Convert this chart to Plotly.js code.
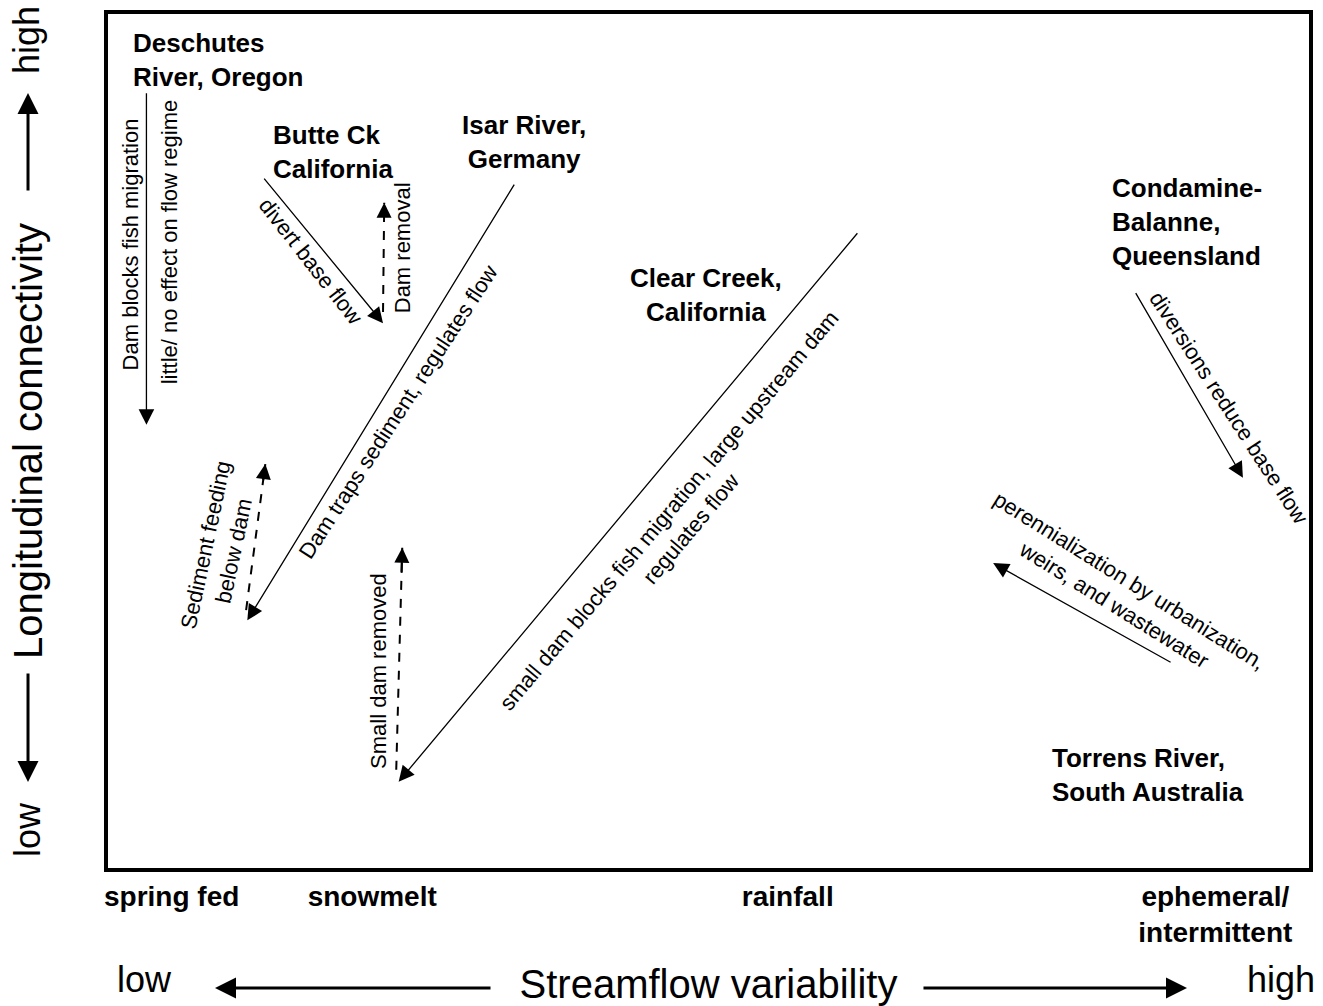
<!DOCTYPE html>
<html>
<head>
<meta charset="utf-8">
<script src="https://cdn.plot.ly/plotly-3.0.1.min.js"></script>
<style>html,body{margin:0;padding:0;background:#fff;}#chart{width:1323px;height:1006px;}</style>
</head>
<body>
<div id="chart"></div>
<script>
// ---- Axis categories (streamflow regime) ----
const regimeLabels = ['spring fed', 'snowmelt', 'rainfall', 'ephemeral/<br>intermittent'];
const regimePos = [5.3, 22.0, 56.6, 92.2];

// ---- River sites ----
const siteNames = ['Deschutes<br>River, Oregon', 'Butte Ck<br>California', 'Isar River,<br>Germany',
  'Clear Creek,<br>California', 'Condamine-<br>Balanne,<br>Queensland', 'Torrens River,<br>South Australia'];
const siteX = [1.9, 13.6, 34.6, 49.8, 83.4, 78.4];
const siteY = [94.6, 83.8, 85.0, 67.1, 75.6, 10.9];

// ---- Impact trajectories (solid arrows): start -> end ----
const impactX0 = [3.2, 12.9, 33.9, 62.5, 85.5, 88.6];
const impactY0 = [90.9, 80.9, 80.2, 74.5, 67.5, 24.0];
const impactX1 = [3.2, 22.9, 11.6, 24.2, 94.5, 73.7];
const impactY1 = [51.9, 63.8, 29.0, 10.1, 45.7, 35.7];

// ---- Restoration trajectories (dashed arrows): start -> end ----
const restoreX0 = [22.9, 11.5, 24.0];
const restoreY0 = [65.1, 30.2, 11.5];
const restoreX1 = [23.0, 13.1, 24.5];
const restoreY1 = [77.9, 47.3, 37.5];

// ---- Effect descriptions ----
const effectTexts = ['Dam blocks fish migration', 'little/ no effect on flow regime', 'divert base flow',
  'Dam removal', 'Dam traps sediment, regulates flow', 'Sediment feeding<br>below dam', 'Small dam removed',
  'small dam blocks fish migration, large upstream dam<br>regulates flow', 'diversions reduce base flow',
  'perennialization by urbanization,<br>weirs, and wastewater'];
const effectX = [1.9, 5.1, 16.9, 24.5, 24.2, 9.3, 22.5, 47.6, 93.3, 84.4];
const effectY = [73.0, 73.3, 71.0, 72.6, 53.4, 37.5, 23.1, 40.8, 53.9, 32.2];
const effectAngle = [-90, -90, 52, -90, -57, -78, -90, -50, 57, 32];

// ---- Styles ----
const siteAnchor = ['left', 'left', 'center', 'center', 'left', 'left'];
const BLACK = '#000';
const FAM = 'Liberation Sans, Arial, sans-serif';
const siteFont = {family: FAM, size: 26, color: BLACK, weight: 'bold'};
const effectFont = {family: FAM, size: 22, color: BLACK};
const cueFont = {family: FAM, size: 36, color: BLACK};

const traces = restoreX0.map((x0, i) => ({
  type: 'scatter', mode: 'lines',
  x: [x0, restoreX1[i]], y: [restoreY0[i], restoreY1[i]],
  line: {color: BLACK, width: 2, dash: 'dash'},
  hoverinfo: 'skip', showlegend: false
}));

const annotations = [];
siteNames.forEach((t, i) => annotations.push({
  xref: 'x', yref: 'y', x: siteX[i], y: siteY[i], text: t, showarrow: false,
  xanchor: siteAnchor[i], yanchor: 'middle', align: siteAnchor[i], font: siteFont
}));
effectTexts.forEach((t, i) => annotations.push({
  xref: 'x', yref: 'y', x: effectX[i], y: effectY[i], text: t, showarrow: false,
  xanchor: 'center', yanchor: 'middle', textangle: effectAngle[i], align: 'center', font: effectFont
}));
impactX0.forEach((x0, i) => annotations.push({
  xref: 'x', yref: 'y', axref: 'x', ayref: 'y',
  x: impactX1[i], y: impactY1[i], ax: x0, ay: impactY0[i], text: '',
  showarrow: true, arrowhead: 2, arrowsize: 2.4, arrowwidth: 1.3, arrowcolor: BLACK
}));
restoreX0.forEach((x0, i) => annotations.push({
  xref: 'x', yref: 'y', axref: 'x', ayref: 'y',
  x: restoreX1[i], y: restoreY1[i],
  ax: restoreX1[i] + 0.12 * (x0 - restoreX1[i]), ay: restoreY1[i] + 0.12 * (restoreY0[i] - restoreY1[i]),
  text: '', showarrow: true, arrowhead: 2, arrowsize: 1.5, arrowwidth: 2, arrowcolor: BLACK
}));

// axis direction cues (low / high with arrows)
const cueArrow = {xref: 'paper', yref: 'paper', text: '', showarrow: true, arrowhead: 2,
  arrowsize: 1.4, arrowwidth: 3, arrowcolor: BLACK};
annotations.push(Object.assign({}, cueArrow, {x: 0.0891, y: -0.1405, ax: 277, ay: 0}));
annotations.push(Object.assign({}, cueArrow, {x: 0.8984, y: -0.1405, ax: -265, ay: 0}));
annotations.push(Object.assign({}, cueArrow, {x: -0.0666, y: 0.9075, ax: 0, ay: 99}));
annotations.push(Object.assign({}, cueArrow, {x: -0.0666, y: 0.1007, ax: 0, ay: -110}));
const cueText = {xref: 'paper', yref: 'paper', showarrow: false, xanchor: 'center', yanchor: 'middle', font: cueFont};
annotations.push(Object.assign({}, cueText, {x: 0.0308, y: -0.1300, text: 'low'}));
annotations.push(Object.assign({}, cueText, {x: 0.9767, y: -0.1300, text: 'high'}));
annotations.push(Object.assign({}, cueText, {x: -0.0674, y: 0.9696, text: 'high', textangle: -90}));
annotations.push(Object.assign({}, cueText, {x: -0.0666, y: 0.0445, text: 'low', textangle: -90}));

const layout = {
  width: 1323, height: 1006,
  margin: {l: 108, r: 14, t: 14, b: 138},
  paper_bgcolor: '#fff', plot_bgcolor: '#fff',
  showlegend: false,
  xaxis: {
    range: [0, 100], showgrid: false, zeroline: false,
    showline: true, mirror: true, linewidth: 4, linecolor: BLACK,
    tickmode: 'array', tickvals: regimePos, ticktext: regimeLabels, ticks: '',
    tickfont: {family: FAM, size: 28, color: BLACK, weight: 'bold'},
    title: {text: 'Streamflow variability', font: {family: FAM, size: 40, color: BLACK}, standoff: 24},
    fixedrange: true
  },
  yaxis: {
    range: [0, 100], showgrid: false, zeroline: false, showticklabels: false, ticks: '',
    showline: true, mirror: true, linewidth: 4, linecolor: BLACK,
    title: {text: 'Longitudinal connectivity', font: {family: FAM, size: 40, color: BLACK}, standoff: 50},
    fixedrange: true
  },
  annotations: annotations
};

Plotly.newPlot('chart', traces, layout, {displayModeBar: false, staticPlot: true});
</script>
</body>
</html>
